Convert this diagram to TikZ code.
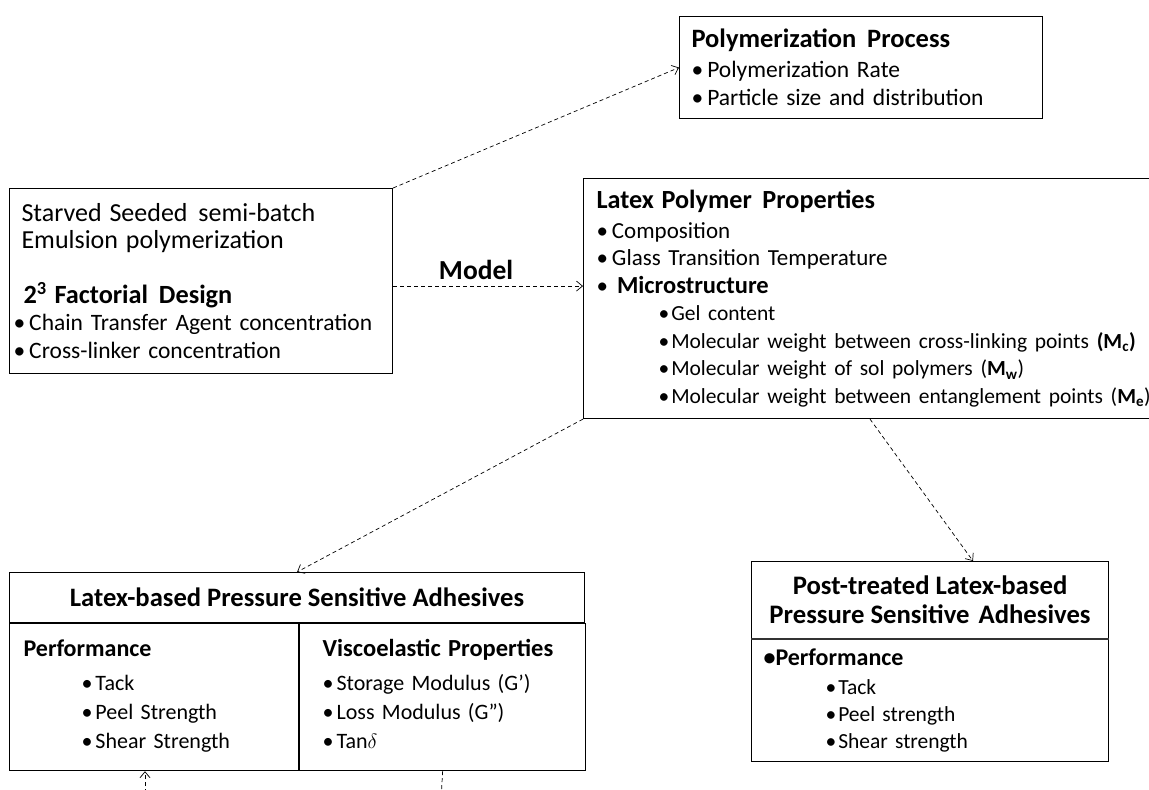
\documentclass[tikz,border=0pt]{standalone}
\usepackage{fontspec}
\setmainfont{Carlito}
\usetikzlibrary{arrows.meta,calc,positioning}
\setlength{\parindent}{0pt}
\newcommand\bul{\textbullet\hspace{4pt}}
\newcommand\sbul{\hspace*{62pt}\textbullet\hspace{2pt}}
\newcommand\wsp{\ \hspace{3pt}}

\begin{document}
\begin{tikzpicture}[x=1pt,y=-1pt,>={Straight Barb[length=6pt,width=10pt]}]
  \tikzstyle{box}=[draw,line width=1.1pt,anchor=north west,inner ysep=0pt,align=left]
  \tikzstyle{link}=[line width=0.7pt,dash pattern=on 4pt off 3pt]
  \useasboundingbox (0,0) rectangle (1149,790);

  % process and recipe
  \node[box,minimum width=363pt,minimum height=102pt,inner xsep=12pt,text width=339pt,font=\fontsize{23.5}{28}\selectfont] (proc) at (679,16)
    {{\fontsize{26.5}{28}\selectfont\bfseries Polymerization\wsp Process}\\[2pt]
     \bul Polymerization Rate\\
     \bul Particle size and distribution};
  \node[box,minimum width=383pt,minimum height=185pt,inner xsep=4pt,text width=375pt,font=\fontsize{23.5}{27.5}\selectfont] (seed) at (9,188)
    {\hspace*{8pt}{\fontsize{26}{27}\selectfont Starved Seeded\wsp semi-batch}\\
     \hspace*{8pt}{\fontsize{26}{27}\selectfont Emulsion polymerization}\\[27pt]
     \hspace*{10pt}{\fontsize{26.3}{27}\selectfont\bfseries 2\textsuperscript{3} Factorial\wsp Design}\\
     \bul Chain Transfer Agent concentration\\
     \bul Cross-linker concentration};
  \node[box,minimum width=600pt,minimum height=240pt,inner xsep=13pt,text width=574pt,font=\fontsize{23}{27.5}\selectfont] (lpp) at (583,178)
    {{\fontsize{26.2}{27}\selectfont\bfseries Latex Polymer\wsp Properties}\\[2.5pt]
     \bul Composition\\
     \bul Glass Transition Temperature\\
     \textbullet\hspace{9pt}{\fontsize{24.5}{27}\selectfont\bfseries Microstructure}\\
     {\fontsize{21.5}{27}\selectfont\sbul Gel content}\\
     {\fontsize{21.5}{27}\selectfont\sbul Molecular weight between cross-linking points \textbf{(M\textsubscript{c})}}\\
     {\fontsize{21.5}{27}\selectfont\sbul Molecular weight of sol polymers (\textbf{M\textsubscript{w}})}\\
     {\fontsize{21.5}{27}\selectfont\sbul Molecular weight between entanglement points (\textbf{M\textsubscript{e}})}};

  % adhesives
  \node[box,minimum width=575pt,minimum height=50pt,align=center,font=\fontsize{26.6}{29}\selectfont\bfseries] (psa) at (9,572)
    {Latex-based Pressure Sensitive Adhesives};
  \node[box,minimum width=289pt,minimum height=147pt,inner xsep=14pt,text width=261pt,font=\fontsize{22}{29}\selectfont] (perf) at (psa.south west)
    {{\fontsize{24}{29}\selectfont\bfseries\strut Performance}\\[5pt]
     \hspace*{58pt}\textbullet\hspace{3pt}Tack\\
     \hspace*{58pt}\textbullet\hspace{3pt}Peel Strength\\
     \hspace*{58pt}\textbullet\hspace{3pt}Shear Strength\strut};
  \node[box,minimum width=286pt,minimum height=147pt,inner xsep=23pt,text width=240pt,font=\fontsize{22}{29}\selectfont] (visc) at (perf.north east)
    {{\fontsize{24.5}{29}\selectfont\bfseries\strut Viscoelastic Properties}\\[5pt]
     \textbullet\hspace{3pt}Storage Modulus (G’)\\
     \textbullet\hspace{3pt}Loss Modulus (G”)\\
     \textbullet\hspace{3pt}Tan$\delta$\strut};
  \node[box,minimum width=357pt,minimum height=77pt,align=center,font=\fontsize{26.7}{29}\selectfont\bfseries] (post) at (751,561)
    {Post-treated Latex-based\\Pressure Sensitive\wsp Adhesives};
  \node[box,minimum width=357pt,minimum height=122pt,inner xsep=12pt,text width=333pt,font=\fontsize{21.5}{27}\selectfont] (postperf) at (post.south west)
    {{\fontsize{24}{27}\selectfont\bfseries\textbullet Performance}\\[2pt]
     \hspace*{62pt}\textbullet\hspace{2pt}Tack\\
     \hspace*{62pt}\textbullet\hspace{2pt}Peel strength\\
     \hspace*{62pt}\textbullet\hspace{2pt}Shear strength};
  \draw[line width=2.4pt,black!80] (post.south west) -- (post.south east);

  % connectors
  \draw[link,->] (seed.north east) -- (proc.west);
  \coordinate (mfrom) at ($(seed.east)+(0,5)$);
  \draw[link,->] (mfrom) -- (mfrom -| lpp.west)
    node[midway,above=3pt,xshift=-12pt,font=\fontsize{27.5}{30}\selectfont\bfseries] (model) {Model};
  \draw[link,->] (lpp.south west) -- (psa.north);
  \draw[link,->] ($(lpp.south west)+(287,0)$) -- ($(post.north west)+(222,0)$);
  \coordinate (perfin) at (145,800);
  \draw[link,->] (perfin) -- (perfin |- perf.south);
  \coordinate (viscout) at (441,800);
  \draw[link] (visc.south) -- (viscout);
\end{tikzpicture}
\end{document}
